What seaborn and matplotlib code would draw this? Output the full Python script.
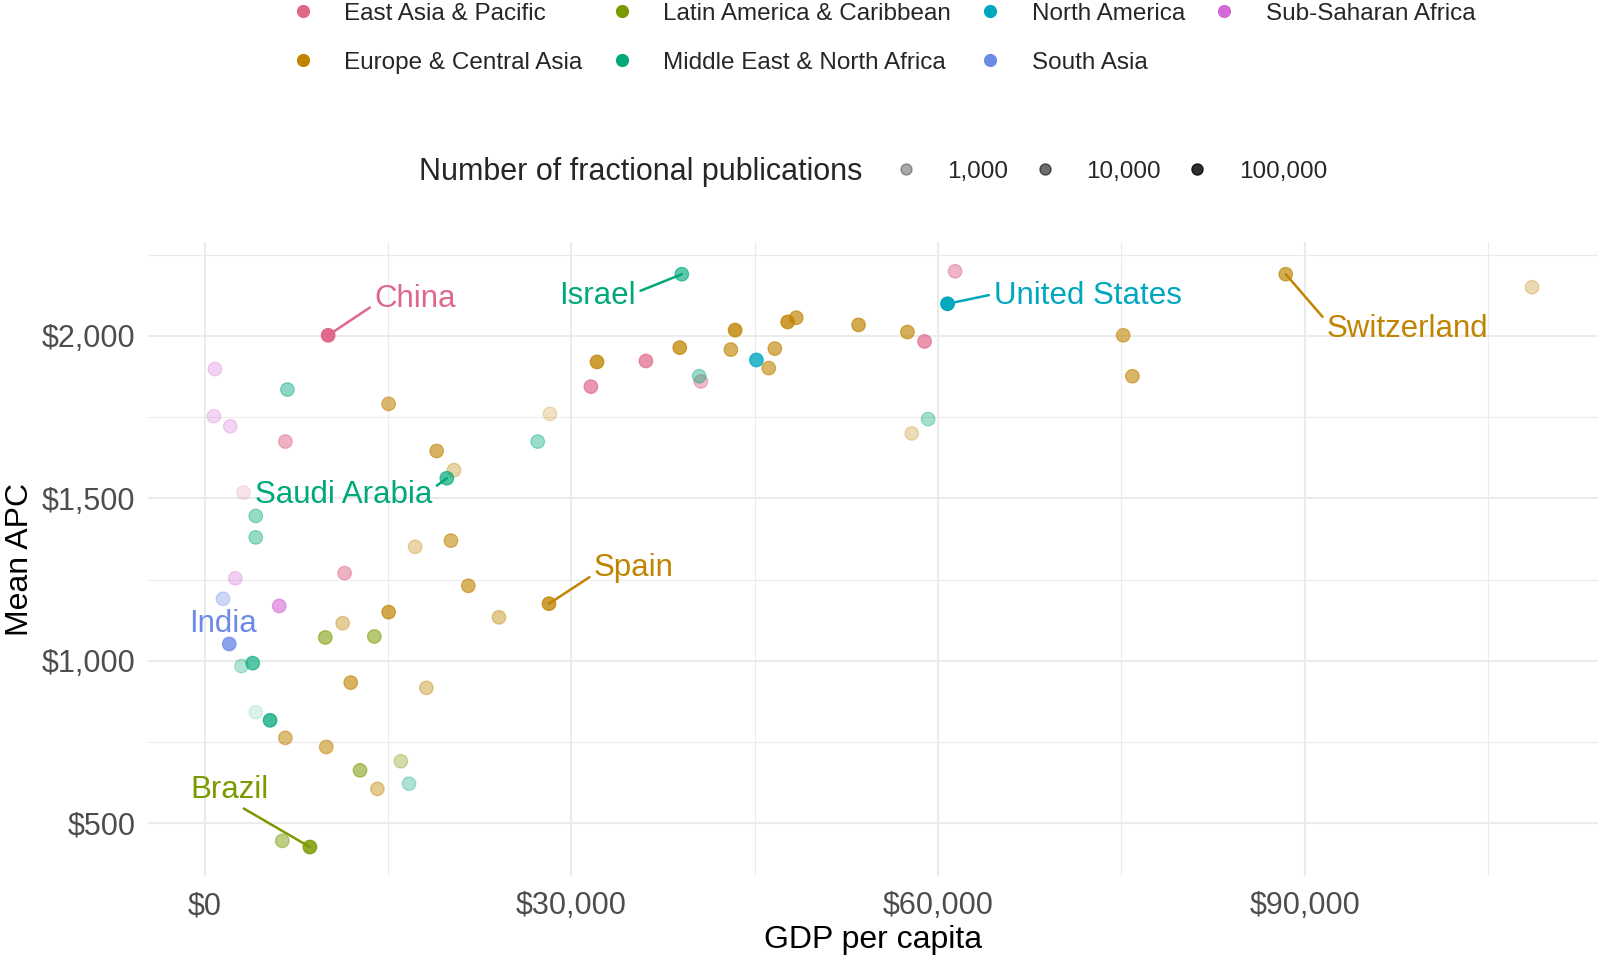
import matplotlib
matplotlib.use('Agg')
import matplotlib.pyplot as plt
from matplotlib.lines import Line2D
from matplotlib.ticker import StrMethodFormatter, FixedLocator
import numpy as np
import pandas as pd
import seaborn as sns

# Regiões (ordem da legenda) e cores
regions = ['East Asia & Pacific', 'Europe & Central Asia', 'Latin America & Caribbean',
           'Middle East & North Africa', 'North America', 'South Asia', 'Sub-Saharan Africa']
region_colors = ['#E0678A', '#C08400', '#7A9A00', '#00A87A', '#00A8BF', '#6C8BE6', '#D368D6']

# Dados: PIB per capita, APC médio, nº de publicações fracionadas
east_asia_gdp = [10100, 61400, 36100, 31600, 58900, 40600, 6600, 11450, 3180]
east_asia_apc = [2002, 2199, 1923, 1844, 1983, 1860, 1675, 1270, 1518]
east_asia_pubs = [500000, 4000, 35000, 30000, 30000, 3000, 5000, 5000, 200]

europe_gdp = [88450, 28170, 108600, 75150, 75900, 57500, 53500, 48400, 47700, 43400,
              46650, 43050, 46150, 38870, 32100, 28250, 15050, 18980, 20400, 20150,
              17220, 21570, 24080, 15050, 11290, 11950, 18140, 6600, 9950, 14130, 57850]
europe_apc = [2190, 1176, 2150, 2002, 1876, 2012, 2034, 2056, 2043, 2018,
              1961, 1958, 1901, 1964, 1920, 1760, 1791, 1646, 1587, 1370,
              1351, 1231, 1134, 1150, 1116, 933, 917, 763, 735, 606, 1700]
europe_pubs = [25000, 70000, 700, 12000, 12000, 20000, 30000, 25000, 80000, 80000,
               18000, 18000, 12000, 50000, 70000, 400, 10000, 15000, 1200, 10000,
               1000, 15000, 2500, 30000, 1800, 15000, 1800, 6000, 8000, 2500, 600]

latam_gdp = [8610, 6350, 9870, 13880, 12710, 16050]
latam_apc = [427, 446, 1072, 1075, 663, 691]
latam_pubs = [120000, 4000, 10000, 7000, 8000, 1000]

mena_gdp = [39040, 19810, 6770, 4180, 4180, 3930, 3010, 4180, 5350, 16720, 27250, 40460, 59190]
mena_apc = [2190, 1562, 1835, 1446, 1380, 993, 984, 842, 817, 622, 1675, 1876, 1744]
mena_pubs = [18000, 30000, 3000, 2000, 2000, 20000, 700, 150, 50000, 900, 1800, 1800, 1200]

north_america_gdp = [60780, 45140]
north_america_apc = [2099, 1926]
north_america_pubs = [550000, 80000]

south_asia_gdp = [2010, 1500]
south_asia_apc = [1052, 1191]
south_asia_pubs = [80000, 1000]

ssa_gdp = [840, 750, 2090, 2510, 6100]
ssa_apc = [1898, 1753, 1722, 1254, 1169]
ssa_pubs = [600, 500, 600, 800, 12000]

# Países rotulados
label_names = ['China', 'Israel', 'United States', 'Switzerland', 'Saudi Arabia', 'Spain', 'India', 'Brazil']
label_regions = ['East Asia & Pacific', 'Middle East & North Africa', 'North America', 'Europe & Central Asia',
                 'Middle East & North Africa', 'Europe & Central Asia', 'South Asia', 'Latin America & Caribbean']
label_points = [(10100, 2002), (39040, 2190), (60780, 2099), (88450, 2190),
                (19810, 1562), (28170, 1176), (2010, 1052), (8610, 427)]
label_text_pos = [(13880, 2115), (35280, 2124), (64540, 2124), (91800, 2021),
                  (18640, 1511), (31850, 1285), (1500, 1112), (2000, 604)]

alpha_breaks = [1000, 10000, 100000]

gdp_all = [east_asia_gdp, europe_gdp, latam_gdp, mena_gdp, north_america_gdp, south_asia_gdp, ssa_gdp]
apc_all = [east_asia_apc, europe_apc, latam_apc, mena_apc, north_america_apc, south_asia_apc, ssa_apc]
pubs_all = [east_asia_pubs, europe_pubs, latam_pubs, mena_pubs, north_america_pubs, south_asia_pubs, ssa_pubs]

df = pd.concat([pd.DataFrame({'gdp': g, 'apc': a, 'pubs': p, 'region': r})
                for g, a, p, r in zip(gdp_all, apc_all, pubs_all, regions)], ignore_index=True)

# Escala de transparência (log10), como no ggplot
P_MIN, P_MAX = 100, 600000
def to_alpha(p):
    return 0.1 + 0.9 * (np.log10(p) - np.log10(P_MIN)) / (np.log10(P_MAX) - np.log10(P_MIN))

palette = dict(zip(regions, region_colors))

sns.set_theme(style='whitegrid')
plt.rcParams['font.family'] = ['Liberation Sans', 'DejaVu Sans']

fig = plt.figure(figsize=(16.03, 9.61), dpi=100)
ax = fig.add_axes([0.0923, 0.0885, 0.9046, 0.6593])

sns.scatterplot(data=df, x='gdp', y='apc', hue='region', palette=palette, s=95,
                linewidth=0.9, legend=False, ax=ax)

# Transparência ponto a ponto
coll = ax.collections[0]
rgba = np.array([matplotlib.colors.to_rgba(palette[r]) for r in df['region']])
rgba[:, 3] = to_alpha(df['pubs'].values)
coll.set_facecolors(rgba)
coll.set_edgecolors(rgba)

# Rótulos com segmentos
relpos_list = [(0, 0.3), (1, 0.6), (0, 0.55), (0, 0.75), (1, 0.7), (0, 0.3), (0.5, 0.0), (0.6, 0.0)]
for name, reg, pt, tp, rp in zip(label_names, label_regions, label_points, label_text_pos, relpos_list):
    ha = 'left' if rp[0] == 0 else ('right' if rp[0] == 1 else 'center')
    if name == 'India':
        ax.text(tp[0], tp[1], name, color=palette[reg], fontsize=22.5, ha='center', va='center')
        continue
    ax.annotate(name, xy=pt, xytext=tp, textcoords='data', color=palette[reg], fontsize=22.5,
                ha=ha, va='center',
                arrowprops=dict(arrowstyle='-', color=palette[reg], lw=1.8,
                                shrinkA=1, shrinkB=0, relpos=rp))

ax.set_xlim(-4640, 114000)
ax.set_ylim(338, 2288)
ax.xaxis.set_major_locator(FixedLocator([0, 30000, 60000, 90000]))
ax.yaxis.set_major_locator(FixedLocator([500, 1000, 1500, 2000]))
ax.xaxis.set_minor_locator(FixedLocator([15000, 45000, 75000, 105000]))
ax.yaxis.set_minor_locator(FixedLocator([750, 1250, 1750, 2250]))
ax.xaxis.set_major_formatter(StrMethodFormatter('${x:,.0f}'))
ax.yaxis.set_major_formatter(StrMethodFormatter('${x:,.0f}'))
ax.grid(which='major', color='#EBEBEB', linewidth=1.5)
ax.grid(which='minor', color='#EBEBEB', linewidth=0.8)
ax.tick_params(axis='both', which='both', length=0, labelsize=22, labelcolor='#4D4D4D')
ax.tick_params(axis='x', pad=11)
ax.tick_params(axis='y', pad=9)
for s in ax.spines.values():
    s.set_visible(False)
ax.set_facecolor('white')
ax.set_xlabel('GDP per capita', fontsize=23, color='black', labelpad=3)
ax.set_ylabel('Mean APC', fontsize=23, color='black', labelpad=5)

# Legenda de cores
color_handles = [Line2D([], [], marker='o', linestyle='', markersize=8.5, color=c) for c in region_colors]
fig.legend(color_handles, regions, loc='upper left', bbox_to_anchor=(0.1814, 0.997), ncol=4,
           frameon=False, fontsize=17.5, handlelength=1.0, handletextpad=1.2, columnspacing=1.12,
           labelspacing=1.1, borderpad=0, borderaxespad=0)

# Legenda de transparência
fig.text(0.2614, 1 - 171.7 / 961, 'Number of fractional publications', fontsize=22, va='center', ha='left')
alpha_handles = [Line2D([], [], marker='o', linestyle='', markersize=8, color='black', alpha=to_alpha(b))
                 for b in alpha_breaks]
fig.legend(alpha_handles, [f'{b:,}' for b in alpha_breaks], loc='center left',
           bbox_to_anchor=(0.5577, 1 - 171.7 / 961), ncol=3, frameon=False, fontsize=17.5,
           handlelength=1.0, handletextpad=1.2, columnspacing=1.0, borderpad=0, borderaxespad=0)

plt.savefig('out.png', dpi=100, facecolor='white')
